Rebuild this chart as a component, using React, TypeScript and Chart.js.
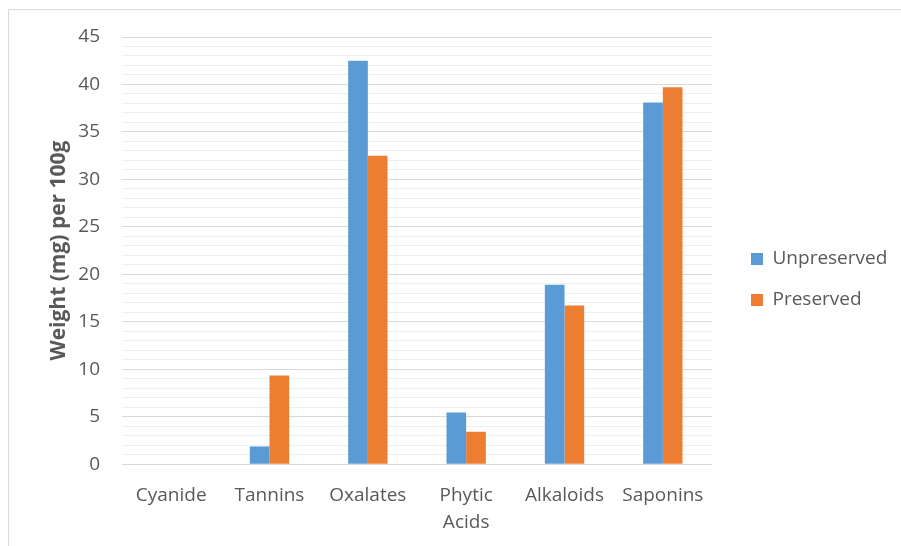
import React, { useEffect, useRef } from "react";
import { Chart, registerables } from "chart.js";

Chart.register(...registerables);

const categories: (string | string[])[] = ["Cyanide", "Tannins", "Oxalates", ["Phytic", "Acids"], "Alkaloids", "Saponins"];
const unpreserved = [0, 1.85, 42.5, 5.45, 18.9, 38.1];
const preserved = [0, 9.35, 32.5, 3.4, 16.7, 39.7];
const seriesNames = ["Unpreserved", "Preserved"];
const yTicksMax = 45;
const yTitle = "Weight (mg) per 100g";

const FONT = "'Open Sans', sans-serif";
const TEXT = "#595959";

export default function App() {
  const ref = useRef<HTMLCanvasElement | null>(null);
  useEffect(() => {
    if (!ref.current) return;
    const chart: any = new Chart(ref.current, {
      type: "bar",
      data: {
        labels: categories,
        datasets: [
          { label: seriesNames[0], data: unpreserved, backgroundColor: "#5B9BD5", borderWidth: 0 },
          { label: seriesNames[1], data: preserved, backgroundColor: "#ED7D31", borderWidth: 0 },
        ],
      },
      options: {
        responsive: false,
        animation: false,
        devicePixelRatio: 1,
        layout: { padding: { left: 46, top: 37, right: 0, bottom: 0 } },
        datasets: { bar: { categoryPercentage: 0.4, barPercentage: 1.0 } },
        plugins: {
          tooltip: { enabled: false },
          legend: {
            position: "right",
            align: "center",
            labels: {
              boxWidth: 12,
              boxHeight: 12,
              padding: 22,
              color: TEXT,
              font: { family: FONT, size: 19 },
            },
          },
        },
        scales: {
          x: {
            grid: { display: false },
            border: { display: false },
            ticks: {
              color: TEXT,
              font: { family: FONT, size: 19, lineHeight: 1.47 },
              padding: 9,
              maxRotation: 0,
              autoSkip: false,
            },
          },
          y: {
            min: 0,
            max: yTicksMax,
            border: { display: false },
            grid: {
              drawTicks: false,
              color: (c: any) => (c.tick && c.tick.value % 5 === 0 ? "#d9d9d9" : "#efefef"),
              lineWidth: 1,
            },
            ticks: {
              stepSize: 1,
              autoSkip: false,
              padding: 22,
              color: TEXT,
              font: { family: FONT, size: 19 },
              callback: (v: any) => (Number(v) % 5 === 0 ? String(v) : ""),
            },
            title: {
              display: true,
              text: yTitle,
              color: TEXT,
              font: { family: FONT, size: 21, weight: "bold", lineHeight: 1.2 },
              padding: { top: 0, bottom: 0 },
            },
            afterFit: (s: any) => { s.width = 76; },
          },
        },
      } as any,
    });
    // Place the legend block: plot area ends at x=712, legend items start at x=751.
    const lg = chart.legend;
    if (lg) {
      const origFit = lg.fit.bind(lg);
      lg.fit = function () {
        origFit();
        this.width = 901 - 712;
      };
      const origDraw = lg.draw.bind(lg);
      lg.draw = function () {
        const ctx = chart.ctx;
        ctx.save();
        ctx.translate(751 - (712 + 22), -12);
        origDraw();
        ctx.restore();
      };
      chart.update();
    }
    return () => chart.destroy();
  }, []);
  return (
    <div style={{ position: "fixed", left: 0, top: 0, width: 901, height: 546, overflow: "hidden", background: "#fff" }}>
      <div style={{ position: "absolute", left: 8, top: 9, width: 1000, height: 1000, border: "1px solid #d9d9d9" }} />
      <canvas ref={ref} width={901} height={546} style={{ position: "absolute", left: 0, top: 0 }} />
    </div>
  );
}
